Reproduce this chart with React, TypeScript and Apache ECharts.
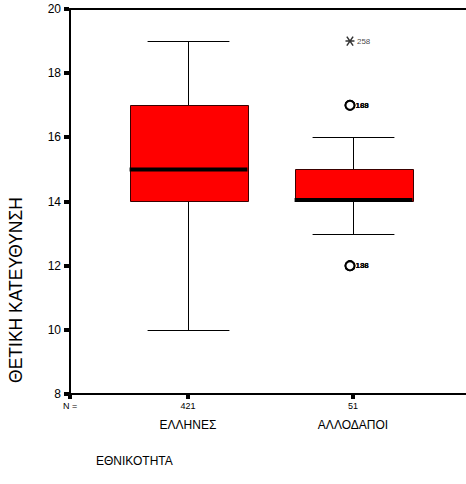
import React, { useEffect, useRef } from "react";
import * as echarts from "echarts";

const categories = ["ΕΛΛΗΝΕΣ", "ΑΛΛΟΔΑΠΟΙ"];
const counts = ["421", "51"];
// [low whisker, Q1, median, Q3, high whisker]
const boxStats = [
  [10, 14, 15, 17, 19],
  [13, 14, 14, 15, 16],
];
// outliers: [category index, value, case label]
const outliers: [number, number, string][] = [
  [1, 17, "169"],
  [1, 17, "188"],
  [1, 12, "136"],
  [1, 12, "188"],
];
const extremes: [number, number, string][] = [[1, 19, "258"]];
const yTicks = [8, 10, 12, 14, 16, 18, 20];

const X_MIN = -0.715;
const X_MAX = 1.685;
const Y_MIN = 8;
const Y_MAX = 20;
const FONT = "'Liberation Sans', Arial, sans-serif";

export default function App() {
  const ref = useRef<HTMLDivElement>(null);
  useEffect(() => {
    if (!ref.current) return;
    const chart = echarts.init(ref.current, null, { renderer: "svg" });
    const boxData = boxStats.map((s, i) => [i, ...s]);
    const xTickVals = [X_MIN, 0, 1];
    const tickData = [
      ...yTicks.map((v) => [X_MIN, v, 0]),
      ...xTickVals.map((v) => [v, Y_MIN, 1]),
    ];
    const axisLineStyle = { color: "#000000", width: 2, opacity: 1 };
    const option: any = {
      animation: false,
      grid: { left: 70, right: 0, top: 9, bottom: 90 },
      xAxis: [
        {
          type: "value",
          min: X_MIN,
          max: X_MAX,
          position: "bottom",
          axisLine: { show: true, onZero: false, lineStyle: axisLineStyle },
          axisTick: { show: false },
          axisLabel: {
            customValues: xTickVals,
            fontSize: 9,
            fontFamily: FONT,
            color: "#000",
            margin: 7,
            formatter: (v: number) => {
              if (v < -0.5) return "N =";
              const idx = Math.round(v);
              return counts[idx] ?? "";
            },
          },
          splitLine: { show: false },
        },
        {
          type: "value",
          min: X_MIN,
          max: X_MAX,
          position: "bottom",
          offset: 17,
          axisLine: { show: false },
          axisTick: { show: false },
          axisLabel: {
            customValues: [0, 1],
            fontSize: 12,
            fontFamily: FONT,
            color: "#000",
            margin: 8,
            formatter: (v: number) => categories[Math.round(v)] ?? "",
          },
          splitLine: { show: false },
        },
        {
          type: "value",
          min: X_MIN,
          max: X_MAX,
          position: "top",
          axisLine: { show: true, onZero: false, lineStyle: axisLineStyle },
          axisTick: { show: false },
          axisLabel: { show: false },
          splitLine: { show: false },
        },
      ],
      yAxis: {
        type: "value",
        min: Y_MIN,
        max: Y_MAX,
        interval: 2,
        axisLine: { show: true, onZero: false, lineStyle: axisLineStyle },
        axisTick: { show: false },
        axisLabel: {
          fontSize: 12,
          fontFamily: FONT,
          color: "#000",
          margin: 9,
          formatter: (v: number) => (yTicks.includes(v) ? String(v) : ""),
        },
        splitLine: { show: false },
      },
      graphic: [
        {
          type: "text",
          left: 96,
          top: 455,
          style: { text: "ΕΘΝΙΚΟΤΗΤΑ", fontSize: 12, fontFamily: FONT, fill: "#000" },
        },
        {
          type: "text",
          x: 16,
          y: 290,
          rotation: Math.PI / 2,
          style: {
            text: "ΘΕΤΙΚΗ ΚΑΤΕΥΘΥΝΣΗ",
            fontSize: 17.5,
            fontFamily: FONT,
            fill: "#000",
            align: "center",
            verticalAlign: "middle",
          },
        },
      ],
      series: [
        {
          type: "custom",
          xAxisIndex: 0,
          data: boxData,
          renderItem: (params: any, api: any) => {
            const x = api.value(0);
            const snap = (v: number) => Math.round(v) + 0.5;
            const low = api.coord([x, api.value(1)]);
            const q1 = api.coord([x, api.value(2)]);
            const med = api.coord([x, api.value(3)]);
            const q3 = api.coord([x, api.value(4)]);
            const high = api.coord([x, api.value(5)]);
            const unit = api.size([1, 0])[0];
            const half = unit * 0.357;
            const cap = unit * 0.248;
            const cx = snap(low[0]);
            const line = (x1: number, y1: number, x2: number, y2: number, w = 1) => ({
              type: "line",
              shape: { x1, y1, x2, y2 },
              style: { stroke: "#000", lineWidth: w },
            });
            const medY = med[1] - (Math.abs(med[1] - q1[1]) < 0.5 ? 1.5 : 0);
            return {
              type: "group",
              children: [
                line(cx, snap(high[1]), cx, q3[1]),
                line(cx, snap(low[1]), cx, q1[1]),
                line(cx - cap, snap(high[1]), cx + cap, snap(high[1])),
                line(cx - cap, snap(low[1]), cx + cap, snap(low[1])),
                {
                  type: "rect",
                  shape: {
                    x: snap(cx - half),
                    y: snap(q3[1]),
                    width: Math.round(half * 2),
                    height: Math.round(q1[1] - q3[1]),
                  },
                  style: { fill: "#ff0000", stroke: "#3a0000", lineWidth: 1 },
                },
                line(cx - half, medY, cx + half, medY, 4),
              ],
            };
          },
          z: 2,
        },
        {
          type: "custom",
          xAxisIndex: 0,
          data: tickData,
          clip: false,
          renderItem: (params: any, api: any) => {
            const p = api.coord([api.value(0), api.value(1)]);
            const isX = api.value(2) === 1;
            return {
              type: "rect",
              shape: isX
                ? { x: Math.round(p[0]) - 2, y: Math.round(p[1]) + 1, width: 4, height: 4 }
                : { x: Math.round(p[0]) - 6, y: Math.round(p[1]) - 2, width: 5, height: 4 },
              style: { fill: "#000" },
            };
          },
          z: 5,
        },
        {
          type: "scatter",
          data: outliers.map((o) => ({ value: [o[0], o[1]], name: o[2] })),
          symbol: "circle",
          symbolSize: 9,
          symbolOffset: [-3, 0],
          itemStyle: { color: "#ffffff", borderColor: "#000000", borderWidth: 2, opacity: 1 },
          label: {
            show: true,
            position: "right",
            distance: 0,
            formatter: (p: any) => p.name,
            fontSize: 8,
            fontWeight: "bold",
            fontFamily: FONT,
            color: "#000",
          },
          z: 3,
        },
        {
          type: "scatter",
          data: extremes.map((o) => ({ value: [o[0], o[1]], name: o[2] })),
          symbol: "path://M0,5L10,5M1.5,1.5L8.5,8.5M8.5,1.5L1.5,8.5",
          symbolSize: 9,
          symbolOffset: [-3, 0],
          itemStyle: { color: "none", borderColor: "#000", borderWidth: 1.5 },
          label: {
            show: true,
            position: "right",
            distance: 0,
            formatter: (p: any) => p.name,
            fontSize: 8,
            fontFamily: FONT,
            color: "#111",
          },
          z: 3,
        },
      ],
    };
    chart.setOption(option);
    return () => chart.dispose();
  }, []);
  return <div ref={ref} style={{ width: 466, height: 484, position: "absolute", left: 0, top: 0 }} />;
}
